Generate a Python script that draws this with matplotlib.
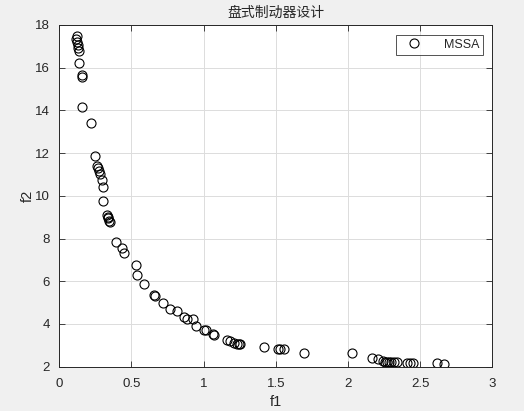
import matplotlib
matplotlib.use("Agg")
import matplotlib.pyplot as plt

plt.rcParams['font.family'] = ['Liberation Sans', 'Noto Sans CJK SC', 'DejaVu Sans']

f1 = [0.125, 0.118, 0.125, 0.128, 0.132, 0.137, 0.139, 0.155, 0.155, 0.155,
      0.220, 0.249, 0.263, 0.266, 0.273, 0.282, 0.296, 0.301, 0.305, 0.333,
      0.335, 0.340, 0.347, 0.353, 0.393, 0.432, 0.450, 0.534, 0.541, 0.589,
      0.656, 0.663, 0.717, 0.765, 0.816, 0.864, 0.887, 0.924, 0.949, 1.003,
      1.017, 1.067, 1.074, 1.160, 1.183, 1.211, 1.229, 1.243, 1.252, 1.416,
      1.516, 1.527, 1.559, 1.696, 2.026, 2.165, 2.211, 2.243, 2.257, 2.271,
      2.285, 2.299, 2.320, 2.341, 2.410, 2.431, 2.452, 2.615, 2.666]
f2 = [17.50, 17.33, 17.19, 17.06, 16.93, 16.78, 16.20, 15.64, 15.56, 14.14,
      13.40, 11.88, 11.41, 11.32, 11.18, 11.02, 10.75, 10.40, 9.76, 9.09,
      8.99, 8.95, 8.84, 8.76, 7.85, 7.54, 7.34, 6.78, 6.28, 5.87,
      5.36, 5.31, 4.98, 4.72, 4.62, 4.34, 4.25, 4.22, 3.91, 3.73,
      3.70, 3.52, 3.48, 3.26, 3.19, 3.12, 3.06, 3.05, 3.05, 2.94,
      2.83, 2.83, 2.81, 2.64, 2.64, 2.39, 2.35, 2.27, 2.24, 2.22,
      2.22, 2.20, 2.20, 2.20, 2.19, 2.19, 2.19, 2.16, 2.13]

xticks = [0, 0.5, 1, 1.5, 2, 2.5, 3]
xticklabels = ['0', '0.5', '1', '1.5', '2', '2.5', '3']
yticks = [2, 4, 6, 8, 10, 12, 14, 16, 18]
title = '盘式制动器设计'
series_name = 'MSSA'

txt = '#262626'
fig = plt.figure(figsize=(5.24, 4.11), dpi=100, facecolor='#f0f0f0')
ax = fig.add_axes([0.1132, 0.1078, 0.8263, 0.8314])
ax.set_facecolor('white')
ax.plot(f1, f2, linestyle='none', marker='o', markersize=6.5,
        markerfacecolor='none', markeredgecolor='black', markeredgewidth=0.8,
        label=series_name)
ax.set_xlim(0, 3)
ax.set_ylim(2, 18)
ax.set_xticks(xticks)
ax.set_xticklabels(xticklabels)
ax.set_yticks(yticks)
ax.grid(True, color='#dcdcdc', linewidth=0.7)
ax.set_axisbelow(True)
ax.tick_params(direction='in', top=True, right=True, length=4, width=0.6,
               colors=txt, labelsize=9.5)
ax.tick_params(axis='x', pad=8)
ax.tick_params(axis='y', pad=7)
for s in ax.spines.values():
    s.set_color(txt)
    s.set_linewidth(0.7)
ax.set_title(title, fontsize=10, color=txt, pad=6,
             family=['Noto Sans CJK SC', 'DejaVu Sans'])
ax.set_xlabel('f1', fontsize=10.5, color=txt)
ax.set_ylabel('f2', fontsize=10.5, color=txt)
ax.xaxis.set_label_coords(0.5, -0.103, transform=ax.transAxes)
ax.yaxis.set_label_coords(-0.072, 0.5, transform=ax.transAxes)
ax.xaxis.label.set_verticalalignment('center')
ax.yaxis.label.set_verticalalignment('center')
leg = ax.legend(loc='upper right', fontsize=9, frameon=True, fancybox=False,
                edgecolor=txt, handlelength=2.3, borderpad=0.3,
                borderaxespad=0, bbox_to_anchor=(0.9785, 0.9707),
                handletextpad=1.2)
leg.get_frame().set_linewidth(0.7)
for t in leg.get_texts():
    t.set_color(txt)
fig.savefig('out.png', dpi=100, facecolor=fig.get_facecolor())
